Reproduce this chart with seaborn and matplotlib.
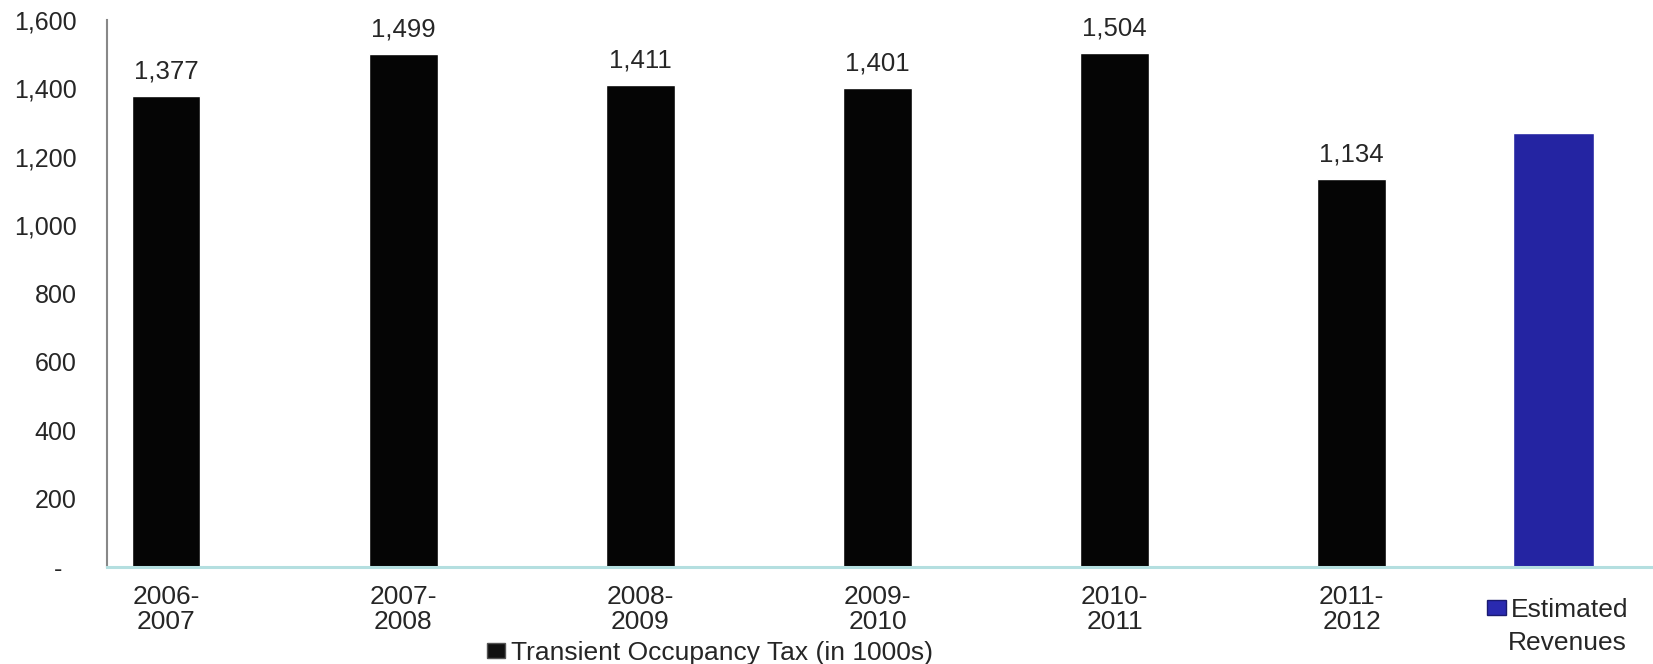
import matplotlib
matplotlib.use("Agg")
import matplotlib.pyplot as plt
import seaborn as sns
import pandas as pd
from matplotlib.patches import Patch
from matplotlib.ticker import FuncFormatter

# данные
periods = ["2006-\n2007", "2007-\n2008", "2008-\n2009", "2009-\n2010", "2010-\n2011", "2011-\n2012"]
tax_values = [1377, 1499, 1411, 1401, 1504, 1134]
estimate_label = ["Estimated", "Revenues"]
estimate_value = 1270
tax_label = "Transient Occupancy Tax (in 1000s)"
y_ticks = [0, 200, 400, 600, 800, 1000, 1200, 1400, 1600]

sns.set_style("white")
plt.rcParams["font.family"] = ["Liberation Sans", "DejaVu Sans"]

df = pd.DataFrame({"period": periods, "tax": tax_values})
order = periods + [""]

fig = plt.figure(figsize=(16.53, 6.64), dpi=100)
ax = fig.add_axes([0.0647, 0.146, 0.9353, 0.824])

sns.barplot(data=df, x="period", y="tax", order=order, color="#050505",
            width=0.29, saturation=1, ax=ax)
ax.bar_label(ax.containers[0], labels=[f"{v:,.0f}" for v in tax_values],
             padding=9, fontsize=18.5)

# оценка — отдельный столбец справа
est_pos = len(periods) - 0.15
ax.bar(est_pos, estimate_value, width=0.34, color="#2424a2")

ax.set_xlim(-0.249, 6.27)
ax.set_ylim(0, 1600)
ax.set_yticks(y_ticks)
ax.yaxis.set_major_formatter(FuncFormatter(lambda v, p: f"{v:,.0f}" if v else "-  "))
ax.set_xlabel("")
ax.set_ylabel("")
ax.tick_params(axis="y", length=0, pad=22, labelsize=18)
ax.tick_params(axis="x", length=0, pad=13, labelsize=19)
for t in ax.get_xticklabels():
    t.set_linespacing(1.05)

for s in ["top", "right"]:
    ax.spines[s].set_visible(False)
ax.spines["left"].set_color("#888888")
ax.spines["left"].set_linewidth(1.5)
ax.spines["bottom"].set_color("#b4dfe0")
ax.spines["bottom"].set_linewidth(2.2)

fig.legend(handles=[Patch(facecolor="#111111", edgecolor="#555555")], labels=[tax_label],
           loc="center left", bbox_to_anchor=(0.2946, 0.017), frameon=False,
           borderpad=0, borderaxespad=0, handlelength=0.7, handleheight=0.5,
           handletextpad=0.2, fontsize=19)
fig.legend(handles=[Patch(facecolor="#2a2ab0", edgecolor="#1a1a70")], labels=[estimate_label[0]],
           loc="center left", bbox_to_anchor=(0.8996, 0.0813), frameon=False,
           borderpad=0, borderaxespad=0, handlelength=0.7, handleheight=0.5,
           handletextpad=0.2, fontsize=19)
fig.text(1508 / 1653, 21 / 664, estimate_label[1], fontsize=19, ha="left", va="center")

fig.savefig("out.png", dpi=100)
